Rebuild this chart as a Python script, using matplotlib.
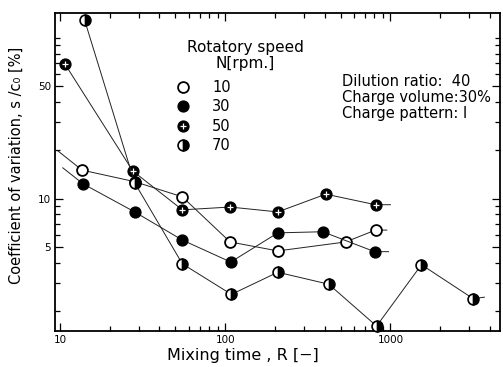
import matplotlib
matplotlib.use('Agg')
import matplotlib.pyplot as plt
from matplotlib.lines import Line2D
from matplotlib.ticker import NullFormatter
from matplotlib.legend_handler import HandlerTuple

plt.rcParams['font.family'] = ['DejaVu Sans']

# values (mixing time R, coefficient of variation %)
speeds = ['10', '30', '50', '70']
t_10 = [9.7, 13.6, 28.3, 55, 107, 208, 535, 812, 950]
cv_10 = [19.9, 15.1, 12.8, 10.3, 5.4, 4.75, 5.4, 6.4, 6.4]
t_30 = [10.4, 13.8, 28.3, 55, 108, 208, 389, 801, 973]
cv_30 = [15.6, 12.4, 8.3, 5.55, 4.05, 6.15, 6.25, 4.7, 4.7]
t_50 = [10.7, 27.6, 55, 107, 208, 406, 812, 1000]
cv_50 = [69, 14.9, 8.55, 8.9, 8.3, 10.7, 9.2, 9.2]
t_70 = [14.1, 28.3, 55, 109, 208, 423, 824, 1540, 3160, 3700]
cv_70 = [129, 12.6, 3.95, 2.55, 3.5, 2.95, 1.62, 3.9, 2.4, 2.45]

x_major = [10, 100, 1000]
x_minor = [m * d for d in (1, 10, 100, 1000) for m in range(2, 10)]
y_major = [5, 10, 50]
y_minor = [2, 3, 4, 6, 7, 8, 9, 20, 30, 40, 60, 70, 80, 90, 100]

fig = plt.figure(figsize=(5.03, 3.67), dpi=100)
ax = fig.add_axes([55 / 503, 36 / 367, 445 / 503, 318 / 367])
ax.set_xscale('log')
ax.set_yscale('log')

lc = '#222222'
ms = 7.8
ax.plot(t_10, cv_10, color=lc, lw=0.7, marker='o', ms=ms, mfc='white', mec='black',
        mew=1.3, markevery=slice(1, -1), zorder=3)
ax.plot(t_30, cv_30, color=lc, lw=0.7, marker='o', ms=ms, mfc='black', mec='black',
        markevery=slice(1, -1), zorder=3)
ax.plot(t_50, cv_50, color=lc, lw=0.7, marker='o', ms=ms, mfc='black', mec='black',
        markevery=slice(0, -1), zorder=3)
ax.plot(t_50[:-1], cv_50[:-1], ls='none', marker='+', ms=5, mec='white', mew=0.9, zorder=4)
ax.plot(t_70, cv_70, color=lc, lw=0.7, marker='o', ms=ms, mfc='black', mfcalt='white',
        fillstyle='right', mec='black', mew=1.2, markevery=slice(0, -1), zorder=3,
        clip_on=False)

ax.set_xticks(x_major)
ax.set_xticklabels([str(v) for v in x_major])
ax.set_xticks(x_minor, minor=True)
ax.set_yticks(y_major)
ax.set_yticklabels([str(v) for v in y_major])
ax.set_yticks(y_minor, minor=True)
ax.xaxis.set_minor_formatter(NullFormatter())
ax.yaxis.set_minor_formatter(NullFormatter())
ax.set_xlim(9.33, 4600)
ax.set_ylim(1.51, 143)
ax.tick_params(which='both', direction='in', top=True, right=True, width=0.9,
               labelsize=7.5, pad=3)
ax.tick_params(which='major', length=6)
ax.tick_params(which='minor', length=3.5)
for s in ax.spines.values():
    s.set_linewidth(1.3)

ax.set_xlabel('Mixing time , R [\u2212]', fontsize=11.5)
ax.xaxis.set_label_coords(0.422, -0.052)
ax.set_ylabel('Coefficient of variation, s /c\u2080 [%]', fontsize=10.5)
ax.yaxis.set_label_coords(-0.07, 0.52)

# legend: title as text, entries as a frameless legend
fig.text(245 / 503, 1 - 40 / 367, 'Rotatory speed\nN[rpm.]', fontsize=11, ha='center',
         va='top', multialignment='center', linespacing=1.05)
h10 = Line2D([], [], ls='none', marker='o', ms=ms, mfc='white', mec='black', mew=1.3)
h30 = Line2D([], [], ls='none', marker='o', ms=ms, mfc='black', mec='black')
h50a = Line2D([], [], ls='none', marker='o', ms=ms, mfc='black', mec='black')
h50b = Line2D([], [], ls='none', marker='+', ms=5, mec='white', mew=0.9)
h70 = Line2D([], [], ls='none', marker='o', ms=ms, mfc='black', mfcalt='white',
             fillstyle='right', mec='black', mew=1.2)
leg = ax.legend([h10, h30, (h50a, h50b), h70], speeds,
                loc='upper left', bbox_to_anchor=((177 - 55) / 445, (331 - 80) / 318),
                frameon=False, fontsize=10.5, handlelength=0.8,
                handletextpad=1.6, labelspacing=0.3, borderpad=0, borderaxespad=0,
                handler_map={tuple: HandlerTuple(ndivide=1, pad=0)})

fig.text(342 / 503, 1 - 74 / 367, 'Dilution ratio:  40\nCharge volume:30%\nCharge pattern: I',
         fontsize=10.5, va='top', ha='left', linespacing=1.1)

fig.savefig('out.png', dpi=100)
